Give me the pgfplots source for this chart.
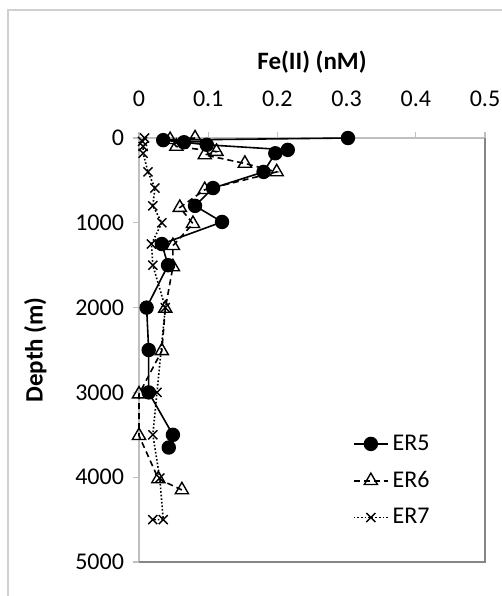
\documentclass[border=0pt]{standalone}
\usepackage{pgfplots}
\pgfplotsset{compat=1.18}
\usepackage{fontspec}
\setmainfont{Carlito}
\definecolor{axisgray}{HTML}{BFBFBF}
\definecolor{framegray}{HTML}{D0D0D0}
\definecolor{boxgray}{HTML}{868686}

\begin{document}
\begin{tikzpicture}
  % page = 502 x 596 px, 1 px = 0.5pt
  \path[use as bounding box] (0pt,0pt) rectangle (251pt,-298pt);
  \draw[framegray, line width=1.2pt] (4pt,-298pt) -- (4pt,-5pt) -- (251pt,-5pt);

  \begin{axis}[
    at={(69.5pt,-69pt)}, anchor=north west,
    scale only axis,
    width=173pt, height=212pt,
    xmin=0, xmax=0.5,
    ymin=0, ymax=5000,
    y dir=reverse,
    xtick={0,0.1,0.2,0.3,0.4,0.5},
    ytick={0,1000,2000,3000,4000,5000},
    xticklabel pos=right,
    xtick pos=right,
    ytick pos=left,
    tick align=outside,
    major tick length=3pt,
    every tick/.style={axisgray, line width=0.6pt},
    axis line style={axisgray, line width=0.8pt},
    /pgf/number format/assume math mode=true,
    xticklabel style={/pgf/number format/fixed, /pgf/number format/precision=1,
      font=\fontsize{12}{14}\selectfont, yshift=9pt},
    yticklabel style={/pgf/number format/set thousands separator={},
      font=\fontsize{12}{14}\selectfont, xshift=-1pt},
    xlabel={\textbf{Fe(II) (nM)}},
    ylabel={\textbf{Depth (m)}},
    every axis x label/.style={at={(axis description cs:0.5,1.179)}, anchor=center,
      font=\fontsize{12.5}{14}\selectfont},
    every axis y label/.style={at={(axis description cs:-0.30,0.5)}, anchor=center, rotate=90,
      font=\fontsize{12.5}{14}\selectfont},
    legend style={draw=none, fill=none, at={(axis description cs:0.60,0.32)}, anchor=north west,
      font=\fontsize{12}{14}\selectfont, row sep=5pt},
    legend cell align=left,
    clip=false,
  ]
    \addplot[black, line width=0.8pt, mark=*, mark size=3.2pt,
      mark options={solid, fill=black}]
    coordinates {
      (0.302,0) (0.035,25) (0.065,50) (0.098,80) (0.215,140) (0.197,180)
      (0.180,400) (0.107,590) (0.081,800) (0.120,990) (0.033,1250)
      (0.042,1500) (0.011,2000) (0.014,2500) (0.014,3000) (0.049,3500)
      (0.043,3650)
    };
    \addlegendentry{ER5}

    \addplot[black, line width=0.8pt, densely dashed, mark=triangle, mark size=3.8pt,
      mark options={solid, fill=white, line width=0.7pt}]
    coordinates {
      (0.081,0) (0.045,20) (0.054,100) (0.112,160) (0.095,200) (0.153,300)
      (0.199,400) (0.095,610) (0.059,820) (0.078,1010) (0.049,1270)
      (0.049,1520) (0.038,2010) (0.033,2510) (0.000,3020) (0.000,3510)
      (0.028,4020) (0.062,4150)
    };
    \addlegendentry{ER6}

    \addplot[black, line width=0.8pt, densely dotted, mark=x, mark size=3.2pt,
      mark options={solid, line width=0.7pt}]
    coordinates {
      (0.008,0) (0.005,40) (0.006,100) (0.006,180) (0.013,400) (0.023,590)
      (0.020,800) (0.033,1000) (0.018,1250) (0.020,1500) (0.038,2000)
      (0.026,3000) (0.020,3500) (0.030,4010) (0.035,4500) (0.020,4500)
    };
    \addlegendentry{ER7}
  \end{axis}
  \draw[boxgray, line width=0.9pt] (242.5pt,-69pt) -- (242.5pt,-281pt) -- (69.5pt,-281pt);
\end{tikzpicture}
\end{document}
